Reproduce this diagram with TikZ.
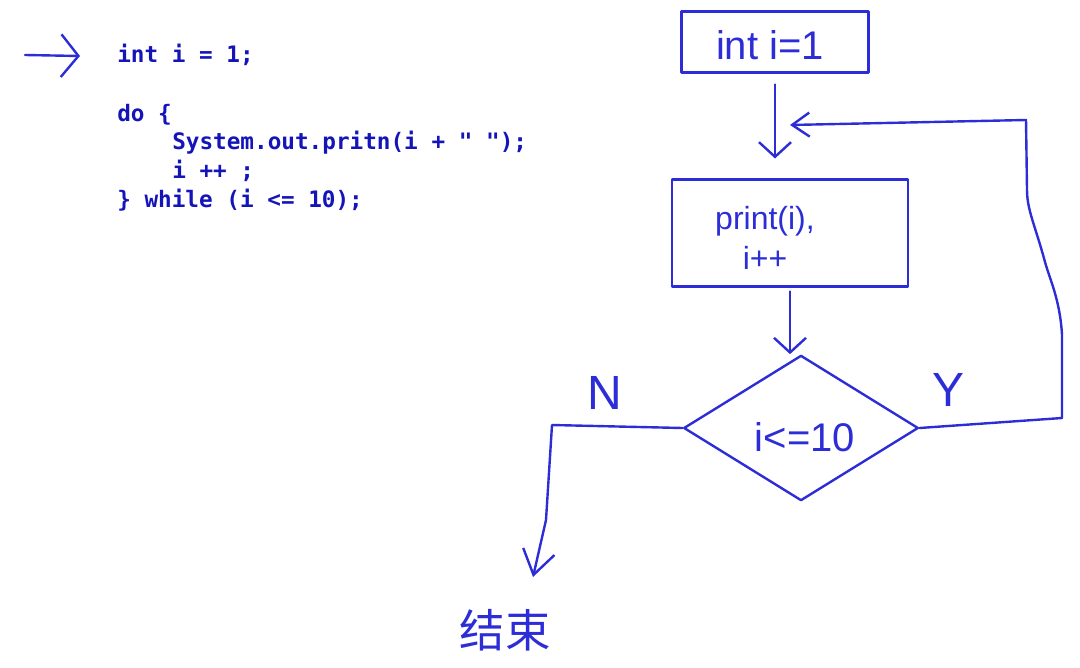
\documentclass[tikz,border=0pt]{standalone}
\usepackage{fontspec}
\usetikzlibrary{shapes.geometric,arrows.meta}
\newfontfamily\codefont{DejaVu Sans Mono}
\newfontfamily\hand{Liberation Sans}
\newfontfamily\cjk{Noto Sans CJK SC}
\definecolor{ink}{RGB}{45,45,215}
\definecolor{codeblue}{RGB}{20,20,185}
\tikzset{
  pen/.style={draw=ink, line width=1.8pt, line join=round, line cap=round},
  arr/.style={pen, -{Straight Barb[length=11pt,width=24pt,line width=1.8pt]}},
  codeline/.style={anchor=base west, inner sep=0pt, text=codeblue, font=\codefont\bfseries\fontsize{17}{20}\selectfont},
  handtxt/.style={text=ink, inner sep=0pt, font=\hand\fontsize{28}{30}\selectfont},
  procbox/.style={pen, rectangle, inner sep=0pt},
  decision/.style={pen, diamond, inner sep=0pt, minimum width=176pt, minimum height=109pt}
}
\begin{document}
\begin{tikzpicture}[x=0.75pt,y=-0.75pt]
\useasboundingbox (0,0) rectangle (1080,667);
% code pointer arrow
\coordinate (ptrA) at (25,55);
\coordinate (ptrB) at (80,56);
\draw[pen, -{Straight Barb[length=13pt,width=32pt,line width=1.8pt]}] (ptrA) -- (ptrB);
% code
\node[codeline] (c1) at (117,63) {int i = 1;};
\node[codeline] (c2) at (117,121) {do \{};
\node[codeline] (c3) at (172,149) {System.out.pritn(i + " ");};
\node[codeline] (c4) at (172,178) {i ++ ;};
\node[codeline] (c5) at (117,207) {\} while (i <= 10);};
% flowchart
\node[procbox, minimum width=140pt, minimum height=46pt] (box1) at (775,42) {};
\node[handtxt, font=\hand\fontsize{30}{32}\selectfont] (t1) at (770,45) {int i=1};
\node[procbox, minimum width=177pt, minimum height=80pt] (box2) at (790,233) {};
\node[handtxt, align=center, font=\hand\fontsize{24}{30}\selectfont] (t2) at (765,238) {print(i),\\ i++};
\node[decision] (dia) at (801,428) {};
\node[handtxt, font=\hand\fontsize{30}{32}\selectfont] (t3) at (805,437) {i<=10};
\node[handtxt, font=\hand\fontsize{36}{38}\selectfont] (N) at (605,393) {N};
\node[handtxt, font=\hand\fontsize{36}{38}\selectfont] (Y) at (948,390) {Y};
\node[text=ink, inner sep=0pt, font=\cjk\fontsize{34}{36}\selectfont] (end) at (505,630) {结束};
% connectors
\draw[arr, shorten <=8pt, shorten >=15pt] (box1.south) -- (box1.south |- box2.north);
\draw[arr, shorten <=3pt] (box2.south) -- (box2.south |- dia.north);
\coordinate (r1) at (1062,418);
\coordinate (r2) at (1062,335);
\coordinate (r3) at (1045,262);
\coordinate (r4) at (1027,190);
\coordinate (r5) at (1026,120);
\coordinate (loopend) at (790,125);
\draw[pen, -{Straight Barb[length=13pt,width=18pt,line width=1.8pt]}] (dia.east) -- (r1) -- (r2) .. controls (1060,300) and (1050,280) .. (r3) .. controls (1035,225) and (1027,210) .. (r4) -- (r5) -- (loopend);
\coordinate (l1) at (552,425);
\coordinate (l2) at (546,520);
\coordinate (endarrow) at (533,577);
\draw[pen, -{Straight Barb[length=18pt,width=24pt,line width=1.8pt]}] (dia.west) -- (l1) -- (l2) -- (endarrow);
\end{tikzpicture}
\end{document}
